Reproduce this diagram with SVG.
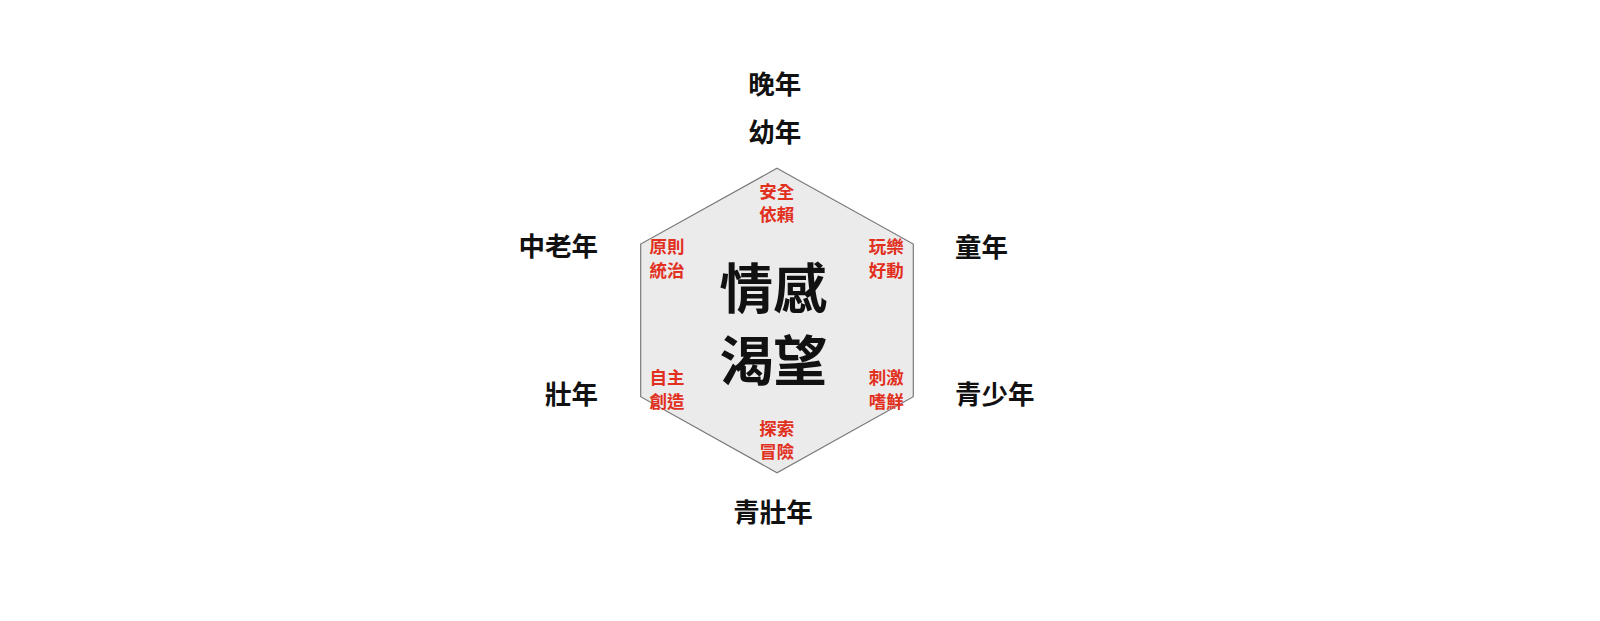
<svg xmlns="http://www.w3.org/2000/svg" width="1600" height="621" viewBox="0 0 1600 621">
<style>
text{font-family:"Noto Sans CJK TC","Noto Sans CJK SC",sans-serif;font-weight:bold;dominant-baseline:central}
.age{font-size:26.5px;fill:#111}
.need{font-size:17.5px;fill:#e2301f;text-anchor:middle}
.core{font-size:54px;fill:#111;text-anchor:middle}
.hex{fill:#ebebeb;stroke:#7a7a7a;stroke-width:1.2}
</style>
<rect width="1600" height="621" fill="#fff"/>
<g id="connectors"/>
<g id="hexagon">
<polygon class="hex" points="777,168.3 913.3,244 913.3,396.7 777,472.7 640.7,396.7 640.7,244"/>
</g>
<g id="core"><text class="core" x="773.3" y="285.5">情感</text><text class="core" x="773.3" y="357.3">渴望</text></g>
<g id="need-top"><text class="need" x="776.7" y="190">安全</text><text class="need" x="776.7" y="213.3">依賴</text></g>
<g id="need-bottom"><text class="need" x="776.7" y="427.5">探索</text><text class="need" x="776.7" y="450">冒險</text></g>
<g id="need-upper-left"><text class="need" x="667" y="245.5">原則</text><text class="need" x="667" y="269.5">統治</text></g>
<g id="need-lower-left"><text class="need" x="667" y="376">自主</text><text class="need" x="667" y="400.3">創造</text></g>
<g id="need-upper-right"><text class="need" x="886.3" y="245.5">玩樂</text><text class="need" x="886.3" y="269.5">好動</text></g>
<g id="need-lower-right"><text class="need" x="886.3" y="376">刺激</text><text class="need" x="886.3" y="400.3">嗜鮮</text></g>
<g id="age-late"><text class="age" x="774.7" y="82.5" text-anchor="middle">晚年</text></g>
<g id="age-infant"><text class="age" x="774.7" y="130.8" text-anchor="middle">幼年</text></g>
<g id="age-middle-old"><text class="age" x="598" y="244.5" text-anchor="end">中老年</text></g>
<g id="age-prime"><text class="age" x="598" y="392.5" text-anchor="end">壯年</text></g>
<g id="age-child"><text class="age" x="955" y="245" text-anchor="start">童年</text></g>
<g id="age-teen"><text class="age" x="955" y="392.5" text-anchor="start">青少年</text></g>
<g id="age-young-adult"><text class="age" x="773" y="510.8" text-anchor="middle">青壯年</text></g>
</svg>
